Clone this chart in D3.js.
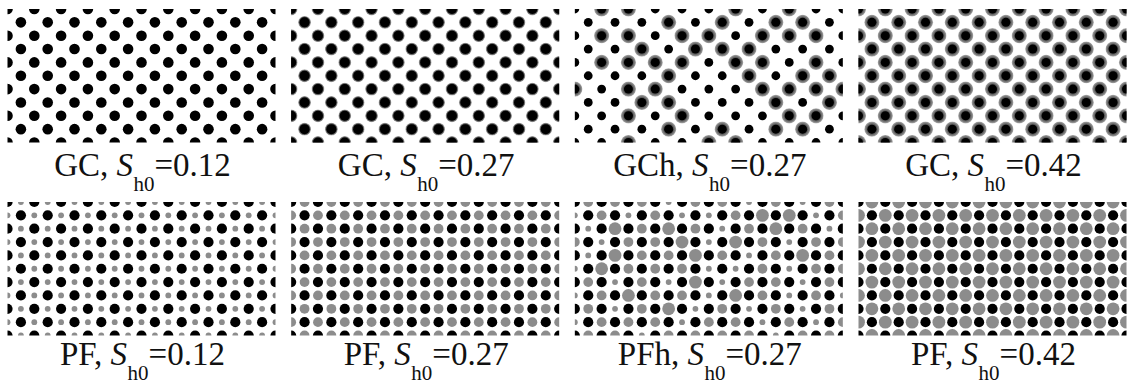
<!DOCTYPE html>
<html>
<head>
<meta charset="utf-8">
<script src="https://cdn.jsdelivr.net/npm/d3@7"></script>
<style>
  html, body { margin: 0; padding: 0; background: #fff; }
  svg { display: block; }
  text.caption { white-space: pre; font-family: "Liberation Serif", "Times New Roman", Times, "DejaVu Serif", serif; }
</style>
</head>
<body>
<svg id="fig" width="1127" height="385"></svg>
<script>
// Lattice: 21 columns x 11 rows of sites, checkerboard split into
// primary sites ((i + j) even) and secondary sites ((i + j) odd).
const latticeCols = d3.range(21);
const latticeRows = d3.range(11);

// Panel captions
const topModels = ["GC", "GC", "GCh", "GC"];
const bottomModels = ["PF", "PF", "PFh", "PF"];
const sh0Labels = ["0.12", "0.27", "0.27", "0.42"];

// GC panels: halo level of every primary site (0 none, 1 thin, 2 wide); null = per-site map
const gcUniformHalo = [0, 1, null, 2];
// PF panels: size level of every secondary (grey) site (0 small, 1 medium, 2 large); null = per-site map
const pfUniformGrey = [0, 1, null, 2];

// GCh: halo (1) or bare (0) for each primary site, row by row, left to right
const gchHalo = [
  [0,1,1,0,0,0,1,0,1,0,0],
  [0,0,0,1,0,1,0,1,1,0],
  [0,1,1,0,1,1,0,1,1,1,0],
  [0,0,1,0,1,1,1,0,0,0],
  [0,1,1,1,1,0,1,1,0,1,0],
  [0,0,0,1,0,0,1,0,1,1],
  [1,0,1,1,0,0,0,1,1,1,1],
  [0,0,1,1,0,0,0,1,0,1],
  [0,0,1,0,1,0,0,0,1,1,0],
  [0,0,0,1,0,1,0,1,1,0],
  [0,0,1,0,0,1,1,0,0,0,0]
];

// PFh: grey dot size level for each secondary site, row by row, left to right
const pfhGrey = [
  [1,1,1,0,1,1,0,1,0,1],
  [0,1,0,1,0,0,1,2,2,0,1],
  [0,2,1,2,1,0,1,2,1,0],
  [1,0,1,1,2,0,2,1,0,1,1],
  [0,2,1,1,2,1,0,1,2,1],
  [0,2,1,1,1,0,0,1,0,1,1],
  [1,0,1,0,2,0,1,1,0,1],
  [0,1,2,1,1,0,2,1,0,1,0],
  [1,0,1,2,0,1,0,1,0,1],
  [0,1,1,1,0,1,1,0,1,0,1],
  [1,1,0,1,1,1,1,0,1,1]
];

const svg = d3.select("#fig");
const panelW = 268, panelH = 133.5;

const panelX = d3.scaleLinear().domain([0, 3]).range([7.5, 858.5]);
const panelY = d3.scalePoint().domain(["top", "bottom"]).range([9, 202]);
const x = d3.scaleLinear().domain([0, 20]).range([0, panelW]);
const y = d3.scaleLinear().domain([0, 10]).range([0, panelH]);

// Radii by level
const gcCoreR = d3.scaleOrdinal().domain([0, 1, 2]).range([5.3, 5.0, 4.5]);
const gcHaloR = d3.scaleOrdinal().domain([0, 1, 2]).range([0, 6.4, 7.6]);
const greyR = d3.scaleOrdinal().domain([0, 1, 2]).range([2.9, 4.9, 6.4]);
const pfBlackR = 5.1;

const defs = svg.append("defs");
function haloGradient(id, coreFrac) {
  const g = defs.append("radialGradient").attr("id", id)
    .attr("cx", "50%").attr("cy", "50%").attr("r", "50%");
  [[0, "#333"], [coreFrac, "#505050"], [coreFrac + (1 - coreFrac) * 0.45, "#767676"],
   [coreFrac + (1 - coreFrac) * 0.8, "#979797"], [1, "#c8c8c8"]]
    .forEach(([o, c]) => g.append("stop").attr("offset", o).attr("stop-color", c));
}
haloGradient("halo1", 5.0 / 6.4);
haloGradient("halo2", 4.5 / 7.6);

function sitesOf(parity) {
  const out = [];
  latticeRows.forEach(j => {
    let k = 0;
    latticeCols.forEach(i => {
      if ((i + j) % 2 === parity) { out.push({ i, j, k }); k++; }
    });
  });
  return out;
}
const primary = sitesOf(0);
const secondary = sitesOf(1);

function panel(col, row, id) {
  const g = svg.append("g")
    .attr("transform", `translate(${panelX(col)},${panelY(row)})`);
  defs.append("clipPath").attr("id", id)
    .append("rect").attr("x", 0).attr("y", 0).attr("width", panelW).attr("height", panelH);
  return g.append("g").attr("clip-path", `url(#${id})`);
}

function caption(col, row, model, value) {
  const base = row === "top" ? 176 : 365;
  const t = svg.append("text")
    .attr("class", "caption")
    .attr("x", panelX(col) + panelW / 2 + 1)
    .attr("y", base)
    .attr("text-anchor", "middle")
    .attr("font-size", 33)
    .attr("fill", "#111");
  t.append("tspan").text(model + ", ");
  t.append("tspan").attr("font-style", "italic").text("S");
  t.append("tspan").attr("font-size", 21).attr("dx", 0.5).attr("dy", 15).text("h0");
  t.append("tspan").attr("dy", -15).text("=" + value);
}

// Top row: GC / GCh
topModels.forEach((model, c) => {
  const g = panel(c, "top", "clipTop" + c);
  const uniform = gcUniformHalo[c];
  const levelOf = d => uniform === null ? (gchHalo[d.j][d.k] ? 2 : 0) : uniform;
  const coreOf = d => uniform === null && levelOf(d) === 0 ? 4.4 : gcCoreR(levelOf(d));
  g.selectAll("circle.halo")
    .data(primary.filter(d => levelOf(d) > 0))
    .join("circle").attr("class", "halo")
    .attr("cx", d => x(d.i)).attr("cy", d => y(d.j))
    .attr("r", d => gcHaloR(levelOf(d)))
    .attr("fill", d => `url(#halo${levelOf(d)})`);
  g.selectAll("circle.core")
    .data(primary)
    .join("circle").attr("class", "core")
    .attr("cx", d => x(d.i)).attr("cy", d => y(d.j))
    .attr("r", coreOf)
    .attr("fill", "#000");
  caption(c, "top", model, sh0Labels[c]);
});

// Bottom row: PF / PFh
bottomModels.forEach((model, c) => {
  const g = panel(c, "bottom", "clipBottom" + c);
  const uniform = pfUniformGrey[c];
  const levelOf = d => uniform === null ? pfhGrey[d.j][d.k] : uniform;
  g.selectAll("circle.grey")
    .data(secondary)
    .join("circle").attr("class", "grey")
    .attr("cx", d => x(d.i)).attr("cy", d => y(d.j))
    .attr("r", d => greyR(levelOf(d)))
    .attr("fill", "#8c8c8c");
  g.selectAll("circle.black")
    .data(primary)
    .join("circle").attr("class", "black")
    .attr("cx", d => x(d.i)).attr("cy", d => y(d.j))
    .attr("r", pfBlackR)
    .attr("fill", "#000");
  caption(c, "bottom", model, sh0Labels[c]);
});
</script>
</body>
</html>
